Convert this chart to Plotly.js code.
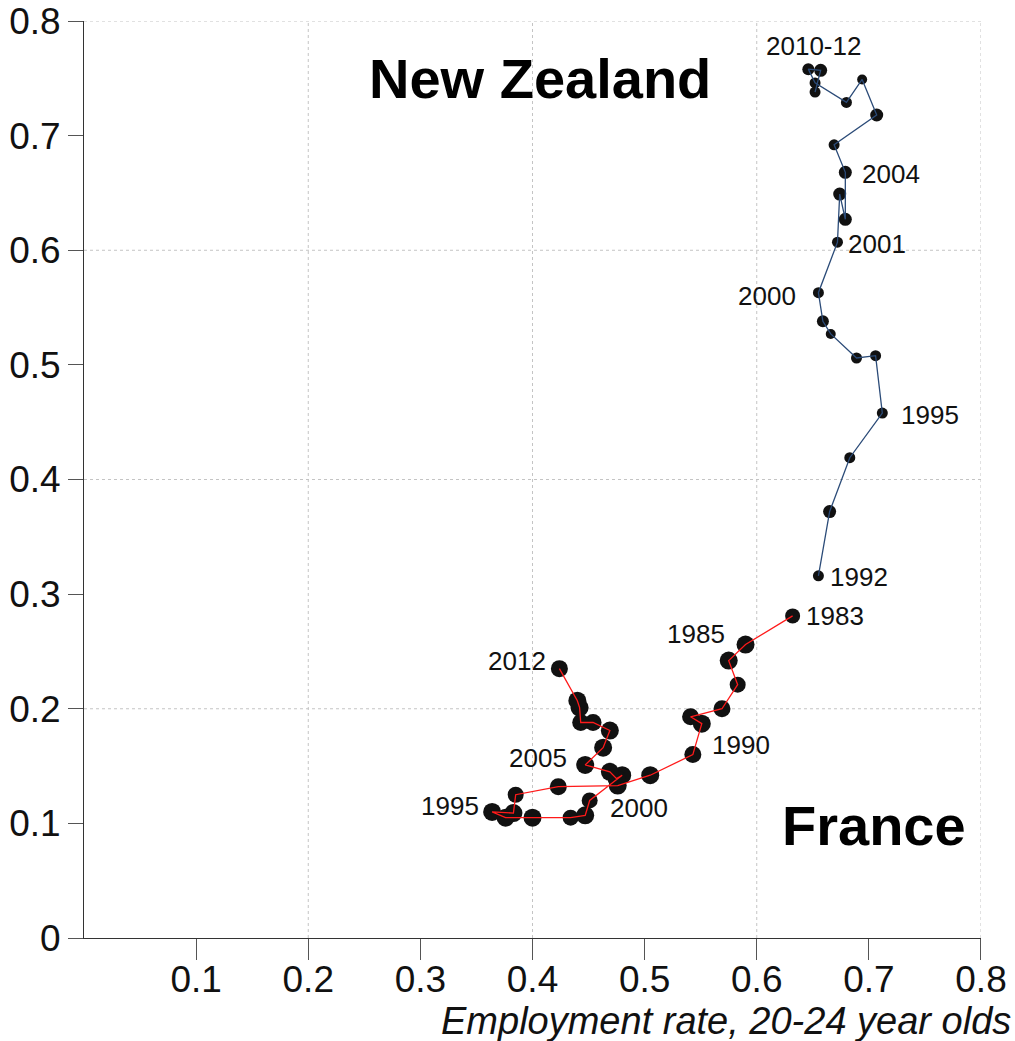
<!DOCTYPE html>
<html>
<head>
<meta charset="utf-8">
<script src="https://cdn.plot.ly/plotly-3.0.1.min.js"></script>
<style>
html,body{margin:0;padding:0;background:#fff;}
#chart{width:1015px;height:1041px;}
</style>
</head>
<body>
<div id="chart"></div>
<script>
// ---- Data ----
var nzYears = [1992,1993,1994,1995,1996,1997,1998,1999,2000,2001,2002,2003,2004,2005,2006,2007,2008,2009,2010,2011,2012];
var nzEmployment = [0.655,0.665,0.683,0.712,0.706,0.689,0.666,0.659,0.655,0.672,0.674,0.679,0.679,0.669,0.707,0.694,0.680,0.652,0.646,0.657,0.652];
var nzValue = [0.316,0.372,0.419,0.458,0.508,0.506,0.527,0.538,0.563,0.607,0.649,0.627,0.668,0.692,0.718,0.749,0.729,0.746,0.758,0.757,0.738];
var nzSize = [11,13,11,11,11,11,10,12,11,11,13,13,13,11,13,10,11,11,12,13,11];

var frYears = [1983,1984,1985,1986,1987,1988,1989,1990,1991,1992,1993,1994,1995,1996,1997,1998,1999,2000,2001,2002,2003,2004,2005,2006,2007,2008,2009,2010,2011,2012];
var frEmployment = [0.632,0.590,0.575,0.583,0.569,0.541,0.551,0.543,0.505,0.476,0.423,0.385,0.383,0.364,0.376,0.400,0.434,0.447,0.451,0.480,0.475,0.469,0.447,0.463,0.469,0.454,0.443,0.442,0.440,0.424];
var frValue = [0.281,0.256,0.242,0.221,0.200,0.193,0.187,0.160,0.142,0.133,0.132,0.125,0.109,0.110,0.105,0.105,0.105,0.107,0.120,0.142,0.139,0.145,0.151,0.166,0.181,0.188,0.188,0.201,0.207,0.235];
var frSize = [15,18,18,16,17,17,18,17,18,18,17,16,18,18,18,18,16,18,16,18,18,18,18,18,18,17,17,18,18,17];

var xTicks = [0.1,0.2,0.3,0.4,0.5,0.6,0.7,0.8];
var xTickLabels = ["0.1","0.2","0.3","0.4","0.5","0.6","0.7","0.8"];
var yTicks = [0,0.1,0.2,0.3,0.4,0.5,0.6,0.7,0.8];
var yTickLabels = ["0","0.1","0.2","0.3","0.4","0.5","0.6","0.7","0.8"];
var gridVals = [0.2,0.4,0.6,0.8];

// year labels: [series, year, text, xshift, yshift]
var yearLabels = [
  ["nz",2010,"2010-12",5,23],
  ["nz",2004,"2004",46,-2],
  ["nz",2001,"2001",40,-2],
  ["nz",2000,"2000",-51,-3],
  ["nz",1995,"1995",48,-2],
  ["nz",1992,"1992",41,-1],
  ["fr",1983,"1983",42,0],
  ["fr",1985,"1985",-33,27],
  ["fr",1990,"1990",48,10],
  ["fr",2000,"2000",54,7],
  ["fr",2005,"2005",-47,7],
  ["fr",1995,"1995",-63,7],
  ["fr",2012,"2012",-42,8]
];

var FONT = "Liberation Sans, Arial, Helvetica, sans-serif";

var traces = [
  {x: frEmployment, y: frValue, mode: "markers", type: "scatter",
   marker: {color: "#111111", opacity: 1, size: frSize, line: {width: 0}}, hoverinfo: "skip"},
  {x: frEmployment, y: frValue, mode: "lines", type: "scatter",
   line: {color: "#ff1a1a", width: 1.3}, hoverinfo: "skip"},
  {x: nzEmployment, y: nzValue, mode: "markers", type: "scatter",
   marker: {color: "#111111", opacity: 1, size: nzSize, line: {width: 0}}, hoverinfo: "skip"},
  {x: nzEmployment, y: nzValue, mode: "lines", type: "scatter",
   line: {color: "#2b4b78", width: 1.3}, hoverinfo: "skip"}
];

var annotations = yearLabels.map(function(l){
  var yrs = l[0] === "nz" ? nzYears : frYears;
  var xs = l[0] === "nz" ? nzEmployment : frEmployment;
  var ys = l[0] === "nz" ? nzValue : frValue;
  var i = yrs.indexOf(l[1]);
  return {x: xs[i], y: ys[i], xref: "x", yref: "y", text: l[2], showarrow: false,
    xshift: l[3], yshift: l[4], xanchor: "center", yanchor: "middle",
    font: {family: FONT, size: 26, color: "#111"}};
});
annotations.push({x: 0.508, y: 0.937, xref: "paper", yref: "paper", text: "<b>New Zealand</b>",
  showarrow: false, xanchor: "center", yanchor: "middle", font: {family: FONT, size: 56, color: "#000"}});
annotations.push({x: 0.881, y: 0.123, xref: "paper", yref: "paper", text: "<b>France</b>",
  showarrow: false, xanchor: "center", yanchor: "middle", font: {family: FONT, size: 56, color: "#000"}});
annotations.push({x: 1, y: 0, xref: "paper", yref: "paper", text: "<i>Employment rate, 20-24 year olds</i>",
  showarrow: false, xanchor: "right", yanchor: "middle", xshift: 32, yshift: -83,
  font: {family: FONT, size: 38, color: "#111"}});

var shapes = [];
gridVals.forEach(function(v){
  shapes.push({type: "line", xref: "x", yref: "paper", x0: v, x1: v, y0: 0, y1: 1, layer: "below",
    line: {color: "#c4c4c4", width: 1, dash: "3px,3px"}});
  shapes.push({type: "line", xref: "paper", yref: "y", x0: 0, x1: 1, y0: v, y1: v, layer: "below",
    line: {color: "#c4c4c4", width: 1, dash: "3px,3px"}});
});

var layout = {
  width: 1015, height: 1041,
  margin: {l: 84, r: 34, t: 21, b: 103, pad: 0},
  paper_bgcolor: "#ffffff", plot_bgcolor: "#ffffff",
  showlegend: false,
  xaxis: {range: [0, 0.80001], tickmode: "array", tickvals: xTicks, ticktext: xTickLabels,
    showgrid: false, zeroline: false, showline: true, linecolor: "#333", linewidth: 1,
    ticks: "outside", ticklen: 21, tickcolor: "#555", tickwidth: 1, ticklabelstandoff: -12,
    ticklabeloverflow: "allow",
    tickfont: {family: FONT, size: 37, color: "#111"}, fixedrange: true},
  yaxis: {range: [0, 0.80001], tickmode: "array", tickvals: yTicks, ticktext: yTickLabels,
    showgrid: false, zeroline: false, showline: true, linecolor: "#333", linewidth: 1,
    ticks: "outside", ticklen: 15, tickcolor: "#555", tickwidth: 1,
    ticklabeloverflow: "allow",
    tickfont: {family: FONT, size: 37, color: "#111"}, fixedrange: true},
  annotations: annotations,
  shapes: shapes
};

Plotly.newPlot("chart", traces, layout, {displayModeBar: false, staticPlot: true});
</script>
</body>
</html>
